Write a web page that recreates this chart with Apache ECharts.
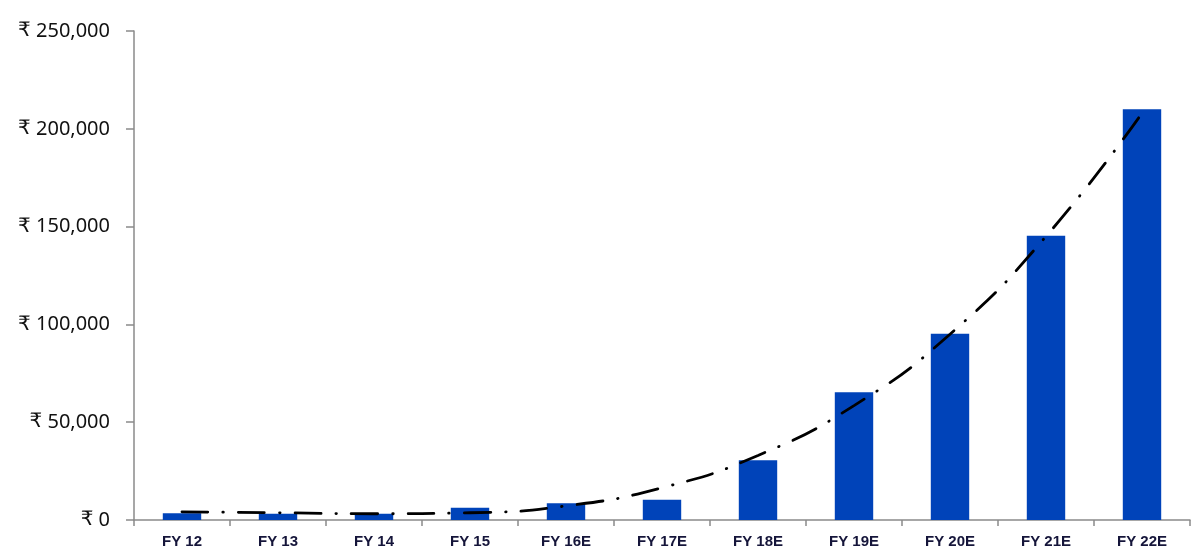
<!DOCTYPE html>
<html>
<head>
<meta charset="utf-8">
<script src="https://cdn.jsdelivr.net/npm/echarts@6/dist/echarts.min.js"></script>
<style>
html,body{margin:0;padding:0;background:#fff;}
#chart{width:1200px;height:556px;}
</style>
</head>
<body>
<div id="chart"></div>
<script>
var categories = ['FY 12','FY 13','FY 14','FY 15','FY 16E','FY 17E','FY 18E','FY 19E','FY 20E','FY 21E','FY 22E'];
var barValues = [3500, 3200, 3200, 6300, 8500, 10400, 30500, 65300, 95200, 145300, 210000];
var trendValues = [4200, 3700, 3200, 3700, 7200, 16500, 33000, 58500, 95000, 145000, 208000];
var yTicks = { min: 0, max: 250000, interval: 50000 };

function fmt(v){
  return '{c|\u20B9} ' + String(v).replace(/\B(?=(\d{3})+(?!\d))/g, ',');
}

var chart = echarts.init(document.getElementById('chart'));
chart.setOption({
  animation: false,
  backgroundColor: '#ffffff',
  grid: { left: 134, right: 10, top: 31, bottom: 36, containLabel: false },
  xAxis: {
    type: 'category',
    data: categories,
    boundaryGap: true,
    axisLine: { show: true, lineStyle: { color: '#8a8a8a', width: 1.5 } },
    axisTick: { show: true, alignWithLabel: false, length: 6, lineStyle: { color: '#8a8a8a', width: 1.5 } },
    axisLabel: { color: '#15153a', fontFamily: 'Liberation Sans', fontWeight: 'bold', fontSize: 15, margin: 14 },
    splitLine: { show: false }
  },
  yAxis: {
    type: 'value',
    min: yTicks.min,
    max: yTicks.max,
    interval: yTicks.interval,
    axisLine: { show: true, lineStyle: { color: '#8a8a8a', width: 1.5 } },
    axisTick: { show: true, length: 8, lineStyle: { color: '#8a8a8a', width: 1.5 } },
    axisLabel: {
      color: '#111111', fontFamily: 'Noto Sans', fontSize: 20, margin: 24, formatter: fmt,
      rich: { c: { fontFamily: 'DejaVu Sans', fontSize: 20, color: '#111111' } }
    },
    splitLine: { show: false }
  },
  series: [
    {
      type: 'bar',
      data: barValues,
      barWidth: '40%',
      itemStyle: { color: '#0043b9' },
      z: 2
    },
    {
      type: 'line',
      data: trendValues,
      smooth: true,
      symbol: 'none',
      lineStyle: { color: '#000000', width: 2.8, type: [26, 15, 0.5, 15], cap: 'round' },
      z: 5
    }
  ]
});
</script>
</body>
</html>
